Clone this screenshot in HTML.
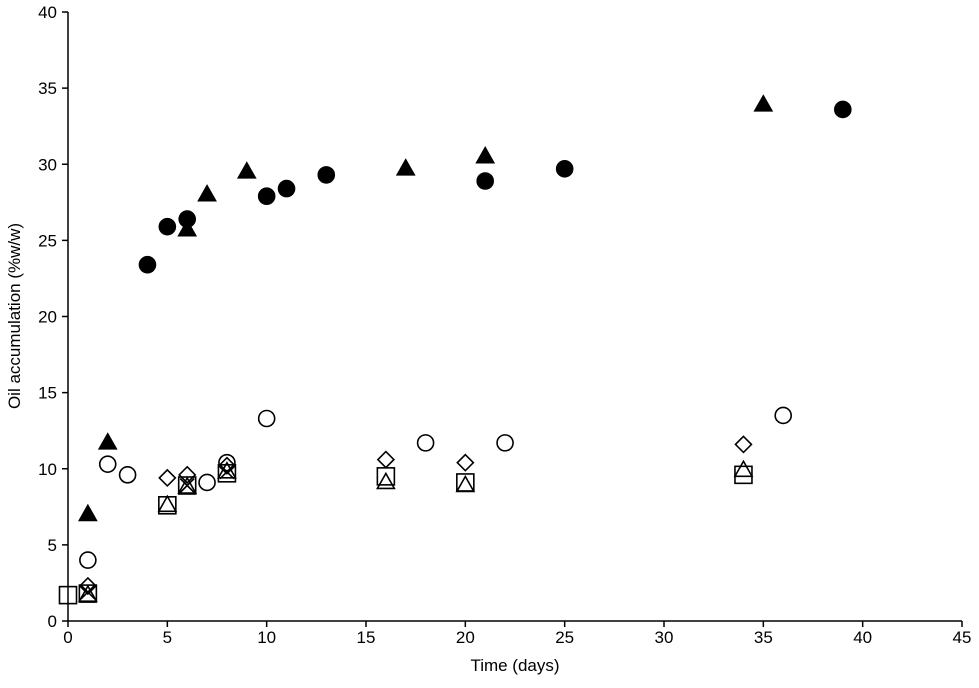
<!DOCTYPE html>
<html><head><meta charset="utf-8"><style>
body{margin:0;background:#fff}
svg{display:block;font-family:"Liberation Sans",Arial,sans-serif}
</style></head><body>
<svg id="chart" width="979" height="688"></svg>
<script>
const xTicks=[0,5,10,15,20,25,30,35,40,45];
const yTicks=[0,5,10,15,20,25,30,35,40];
const filledCircleX=[4,5,6,10,11,13,21,25,39];
const filledCircleY=[23.4,25.9,26.4,27.9,28.4,29.3,28.9,29.7,33.6];
const filledTriX=[1,2,6,7,9,17,21,35];
const filledTriY=[7.0,11.7,25.7,28.0,29.5,29.7,30.5,33.9];
const openCircleX=[1,2,3,7,8,10,18,22,36];
const openCircleY=[4.0,10.3,9.6,9.1,10.4,13.3,11.7,11.7,13.5];
const diamondX=[1,5,6,8,16,20,34];
const diamondY=[2.3,9.4,9.6,10.2,10.6,10.4,11.6];
const squareX=[0,1,5,6,8,16,20,34];
const squareY=[1.7,1.8,7.6,8.9,9.7,9.5,9.1,9.6];
const openTriX=[1,5,6,8,16,20,34];
const openTriY=[1.7,7.6,8.8,9.8,9.1,8.9,9.9];
const crossX=[1,6,8];
const crossY=[1.9,8.9,9.8];

const NS="http://www.w3.org/2000/svg";
const svg=document.getElementById('chart');
const x0=68,x1=962,y0=621,y1=12;
const sx=v=>x0+v*(x1-x0)/45;
const sy=v=>y0-v*(y0-y1)/40;
function mk(tag,attrs,parent){const e=document.createElementNS(NS,tag);for(const k in attrs)e.setAttribute(k,attrs[k]);(parent||svg).appendChild(e);return e;}

let a=mk('line',{x1:x0,y1:y0,x2:x0,y2:y1,stroke:'#000','stroke-width':1.5});


a=mk('line',{x1:x0,y1:y0,x2:x1,y2:y0,stroke:'#000','stroke-width':1.5});


xTicks.forEach(t=>{
  mk('line',{x1:sx(t),y1:y0,x2:sx(t),y2:y0+6,stroke:'#000','stroke-width':1.5});
  const tx=mk('text',{x:sx(t),y:y0+22,'text-anchor':'middle','font-size':17});
  tx.textContent=t;
  
  
});
yTicks.forEach(t=>{
  mk('line',{x1:x0-6,y1:sy(t),x2:x0,y2:sy(t),stroke:'#000','stroke-width':1.5});
  const tx=mk('text',{x:x0-11,y:sy(t)+6,'text-anchor':'end','font-size':17});
  tx.textContent=t;
  
  
});
let t=mk('text',{x:515,y:671,'text-anchor':'middle','font-size':17});
t.textContent='Time (days)';


t=mk('text',{x:0,y:0,'text-anchor':'middle','font-size':17,transform:'translate(20,316) rotate(-90)'});
t.textContent='Oil accumulation (%w/w)';



const st={stroke:'#000','stroke-width':1.6};
function marker(type,cx,cy){
  const g=mk('g',{});
  if(type==='circle'||type==='fcircle'){mk('circle',Object.assign({cx,cy,r:8,fill:type==='fcircle'?'#000':'none'},st),g);}
  else if(type==='tri'||type==='ftri'){mk('polygon',Object.assign({points:`${cx},${cy-9} ${cx-8.5},${cy+6} ${cx+8.5},${cy+6}`,fill:type==='ftri'?'#000':'none'},st),g);}
  else if(type==='square'){mk('rect',Object.assign({x:cx-8.5,y:cy-8.5,width:17,height:17,fill:'none'},st),g);}
  else if(type==='diamond'){mk('polygon',Object.assign({points:`${cx},${cy-8} ${cx+8},${cy} ${cx},${cy+8} ${cx-8},${cy}`,fill:'none'},st),g);}
  else if(type==='cross'){mk('path',Object.assign({d:`M${cx-7},${cy-7}L${cx+7},${cy+7}M${cx-7},${cy+7}L${cx+7},${cy-7}`,fill:'none'},st),g);}
  return g;
}
const series=[
 ['square',squareX,squareY,'series-square'],
 ['tri',openTriX,openTriY,'series-open-triangle'],
 ['diamond',diamondX,diamondY,'series-diamond'],
 ['cross',crossX,crossY,'series-cross'],
 ['circle',openCircleX,openCircleY,'series-open-circle'],
 ['fcircle',filledCircleX,filledCircleY,'series-filled-circle'],
 ['ftri',filledTriX,filledTriY,'series-filled-triangle']
];
series.forEach(([type,xs,ys,name])=>{
  xs.forEach((xv,i)=>{
    const g=marker(type,sx(xv),sy(ys[i]));
    
    
  });
});
</script>
</body></html>
